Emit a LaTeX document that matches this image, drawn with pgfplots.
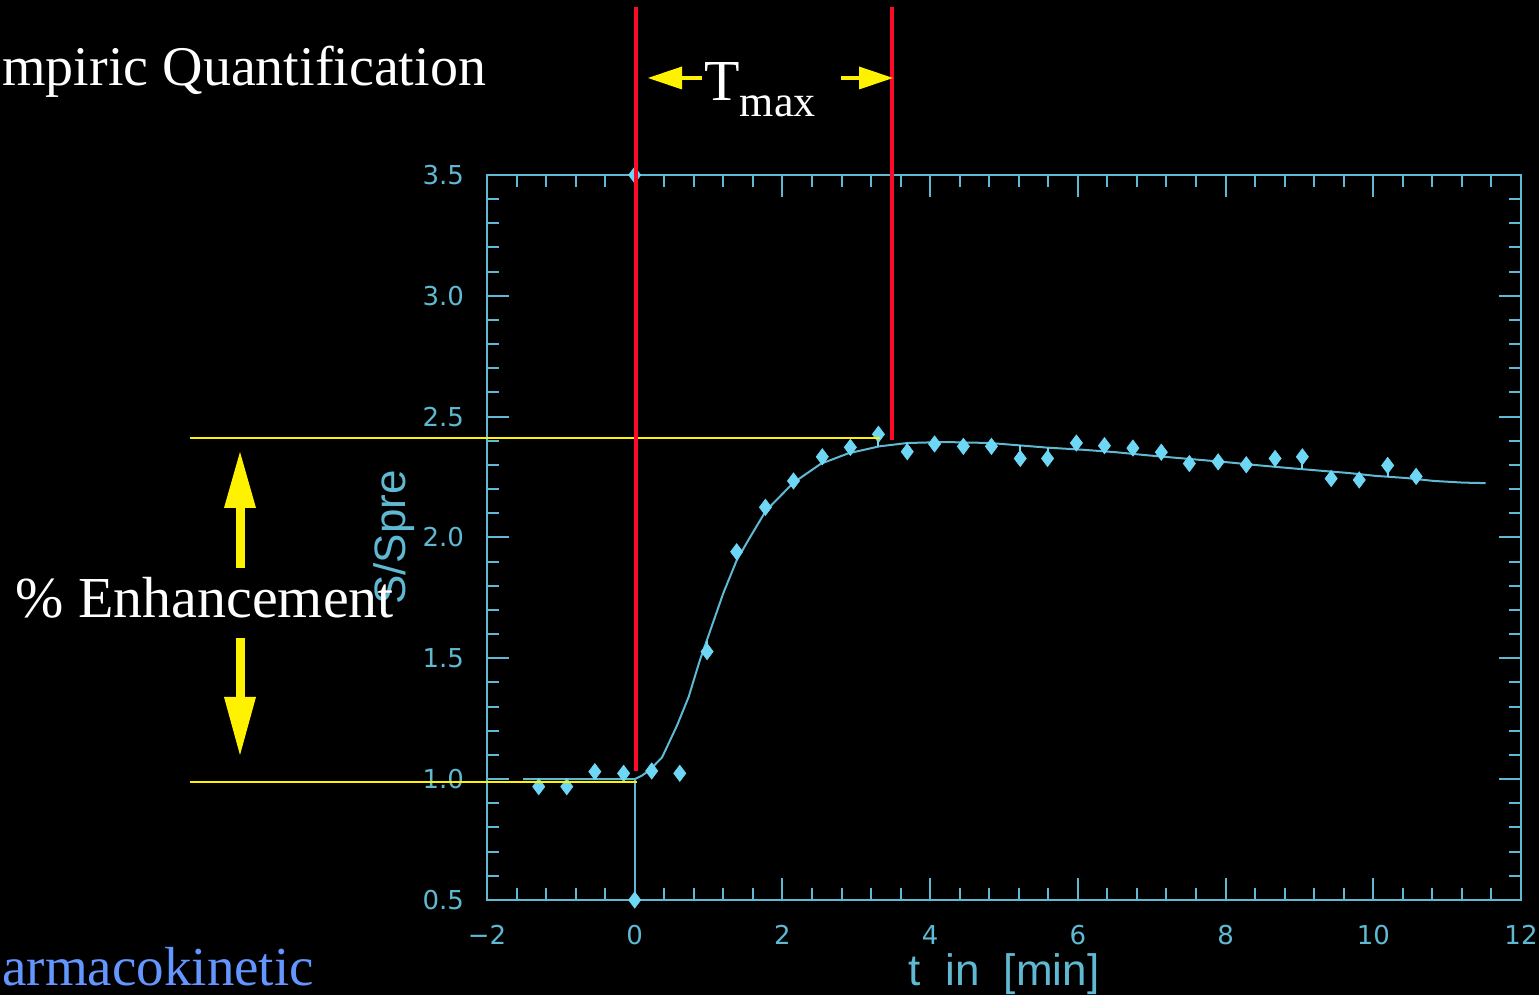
\documentclass[border=0pt]{standalone}
\usepackage{fontspec}
\setmainfont{Liberation Serif}
\newfontfamily\axfont{DejaVu Sans}
\newfontfamily\lblfont{Liberation Sans}
\usepackage{pgfplots}
\pgfplotsset{compat=1.18}
\usepackage{pgfplotstable}
\definecolor{axc}{RGB}{95,185,210}
\definecolor{mkc}{RGB}{110,215,245}
\definecolor{redl}{RGB}{255,10,40}
\definecolor{pkblue}{RGB}{100,150,255}

\pgfplotstableread{
x y ep em
-1.30 0.969 0.031 0
-0.92 0.969 0.031 0
-0.54 1.031 0 0.031
-0.15 1.024 0 0.024
0.23 1.034 0.011 0
0.61 1.024 0 0
0.98 1.528 0.045 0
1.38 1.941 0 0.034
1.77 2.125 0 0.017
2.15 2.234 0 0.007
2.54 2.334 0 0.027
2.92 2.373 0 0.023
3.30 2.427 0 0.050
3.69 2.355 0.036 0
4.06 2.387 0.007 0
4.45 2.377 0.017 0
4.83 2.377 0.014 0
5.22 2.327 0.055 0
5.59 2.327 0.045 0
5.98 2.391 0 0.026
6.36 2.380 0 0.024
6.745 2.370 0 0.024
7.13 2.353 0 0.018
7.51 2.306 0.019 0
7.90 2.313 0.002 0
8.28 2.301 0.003 0
8.67 2.327 0 0.034
9.04 2.334 0 0.051
9.43 2.244 0.029 0
9.81 2.238 0.024 0
10.195 2.298 0 0.047
10.58 2.253 0 0.011
}\meas

\pgfplotstableread{
x y
-1.51 1.000
0.00 1.000
0.10 1.015
0.21 1.040
0.37 1.090
0.57 1.220
0.73 1.340
0.88 1.490
1.04 1.630
1.20 1.770
1.38 1.905
1.54 1.990
1.775 2.110
2.15 2.227
2.52 2.305
2.89 2.348
3.31 2.377
3.69 2.391
4.20 2.395
4.81 2.391
5.58 2.372
6.07 2.363
6.51 2.353
6.91 2.341
7.28 2.331
7.70 2.320
8.07 2.310
8.47 2.298
8.87 2.287
9.26 2.277
9.66 2.267
10.03 2.255
10.45 2.246
10.82 2.234
11.22 2.227
11.52 2.225
}\fit

\begin{document}
\begin{tikzpicture}
\useasboundingbox (0,0) rectangle (769.5pt,497.5pt);
\fill[black] (0,0) rectangle (769.5pt,497.5pt);
\begin{scope}
\clip (0,0) rectangle (769.5pt,497.5pt);
\begin{axis}[
  at={(243.5pt,47.5pt)}, anchor=south west,
  scale only axis, width=517pt, height=362.5pt,
  xmin=-2, xmax=12, ymin=0.5, ymax=3.5,
  axis line style={axc, line width=1pt},
  every tick/.style={axc, line width=1pt},
  tick align=inside,
  major tick length=11pt, minor tick length=6pt,
  xtick={-2,0,2,4,6,8,10,12},
  xticklabels={−2,0,2,4,6,8,10,12},
  minor x tick num=4,
  ytick={0.5,1.0,1.5,2.0,2.5,3.0,3.5},
  yticklabels={0.5,1.0,1.5,2.0,2.5,3.0,3.5},
  minor y tick num=4,
  ticklabel style={font=\axfont\fontsize{13}{15}\selectfont, text=axc},
  xticklabel style={yshift=-9pt},
  yticklabel style={xshift=-8pt},
  xlabel={t\ \ in\ \ [min]},
  xlabel style={font=\lblfont\fontsize{22}{26}\selectfont, text=axc,
    at={(axis description cs:0.5,0)}, anchor=base, yshift=-43pt},
  ylabel={S/Spre},
  ylabel style={font=\lblfont\fontsize{22}{26}\selectfont, text=axc,
    at={(axis description cs:-0.079,0.5)}, anchor=base},
  clip=false,
]
\addplot[axc, line width=1pt] table[x=x,y=y] {\fit};
\addplot[axc, line width=1pt] coordinates {(0,0.5) (0,1.0)};
\addplot[only marks, mark=diamond*, mark size=4pt, mkc,
  error bars/.cd, y dir=both, y explicit, error mark=none,
  error bar style={line width=1pt, mkc}]
  table[x=x, y=y, y error plus=ep, y error minus=em] {\meas};
\addplot[only marks, mark=diamond*, mark size=4pt, mkc] coordinates {(0,0.5) (0,3.5)};
\end{axis}
\end{scope}
\begin{scope}[x=0.5pt, y=-0.5pt, shift={(0,497.5pt)}]
  \clip (0,0) rectangle (1539,995);
  % yellow guide lines
  \draw[yellow, line width=1pt] (190,438.5) -- (880,438.5);
  \draw[yellow, line width=1pt] (190,782) -- (637,782);
  % red lines
  \draw[redl, line width=2pt] (636,7) -- (636,771);
  \draw[redl, line width=2pt] (892,7) -- (892,440);
  % vertical arrows
  \fill[yellow] (235.5,508) rectangle (244.5,568);
  \fill[yellow] (224,508) -- (256,508) -- (240,452) -- cycle;
  \fill[yellow] (235.5,638) rectangle (244.5,697);
  \fill[yellow] (224,697) -- (256,697) -- (240,755) -- cycle;
  % Tmax arrows
  \fill[yellow] (682,76) rectangle (702,80);
  \fill[yellow] (682,66.5) -- (682,89.5) -- (648,78) -- cycle;
  \fill[yellow] (841,76) rectangle (859,80);
  \fill[yellow] (859,66.5) -- (859,89.5) -- (893,78) -- cycle;
  % texts
  \node[anchor=base west, inner sep=0, text=white, font=\fontsize{28}{34}\selectfont] at (2,86) {mpiric Quantification};
  \node[anchor=base west, inner sep=0, text=white, font=\fontsize{29}{35}\selectfont] at (704,101) {T\raisebox{-7.8pt}{\fontsize{22}{26}\selectfont max}};
  \node[anchor=base west, inner sep=0, text=white, font=\fontsize{29}{35}\selectfont] at (15,618) {\% Enhancement};
  \node[anchor=base west, inner sep=0, text=pkblue, font=\fontsize{27.5}{33}\selectfont] at (2,986) {armacokinetic};
\end{scope}
\end{tikzpicture}
\end{document}
